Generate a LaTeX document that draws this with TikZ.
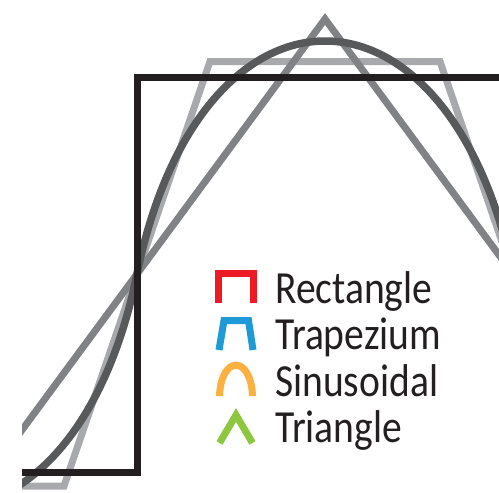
\documentclass[tikz,border=0pt]{standalone}
\usepackage{fontspec}
\setmainfont{Carlito}[FakeStretch=0.86]

\definecolor{rectblack}{HTML}{231F20}
\definecolor{trapgray}{HTML}{A7A9AC}
\definecolor{trigray}{HTML}{808285}
\definecolor{sinegray}{HTML}{58595B}
\definecolor{legred}{HTML}{ED1C24}
\definecolor{legblue}{HTML}{1E9BD7}
\definecolor{legorange}{HTML}{FBB040}
\definecolor{leggreen}{HTML}{8DC63F}

\tikzset{
    wave/.style={line width=7pt, line join=miter, miter limit=10},
    rectwave/.style={wave, draw=rectblack},
    trapwave/.style={wave, draw=trapgray},
    triwave/.style={wave, draw=trigray},
    sinewave/.style={wave, line width=7.5pt, draw=sinegray},
    legicon/.style={line width=7pt, line join=miter, miter limit=10},
    legtext/.style={anchor=base west, inner sep=0pt, text=rectblack,
        font=\fontsize{46}{46}\selectfont}
}

\begin{document}
\begin{tikzpicture}[x=1pt, y=-1pt]
    \useasboundingbox (0,0) rectangle (499,493);
    \begin{scope}
        \clip (22,0) rectangle (499,493);
        \draw[trapwave] (-20,486) -- (64,486) -- (210,61.5) -- (440,61.5) -- (586,486) -- (620,486);
        \draw[triwave] (-51,529) -- (325,19) -- (701,529);
        % rounded sine, one quarter per curve
        \draw[sinewave] (-51,507) .. controls (30,507) and (106.5,424) .. (137,274)
            .. controls (167.5,124) and (244,41) .. (325,41)
            .. controls (406,41) and (482.5,124) .. (513,274);
        \draw[rectwave] (-20,472) -- (137.5,472) -- (137.5,77) -- (520,77);
    \end{scope}
    % legend
    \draw[legicon, draw=legred] (218.5,303) -- (218.5,273.5) -- (253.5,273.5) -- (253.5,303);
    \draw[legicon, draw=legblue] (219,350) -- (224,320.5) -- (248.5,320.5) -- (253,350);
    \draw[legicon, draw=legorange] (219.5,396) .. controls (221,355) and (251,355) .. (252.5,396);
    \draw[legicon, draw=leggreen] (219.5,443) -- (236,415) -- (252.5,443);
    \node[legtext] (rect) at (275,303) {Rectangle};
    \node[legtext] (trap) at (275,349) {Trapezium};
    \node[legtext] (sine) at (275,396) {Sinusoidal};
    \node[legtext] (tri) at (275,442) {Triangle};
\end{tikzpicture}
\end{document}
